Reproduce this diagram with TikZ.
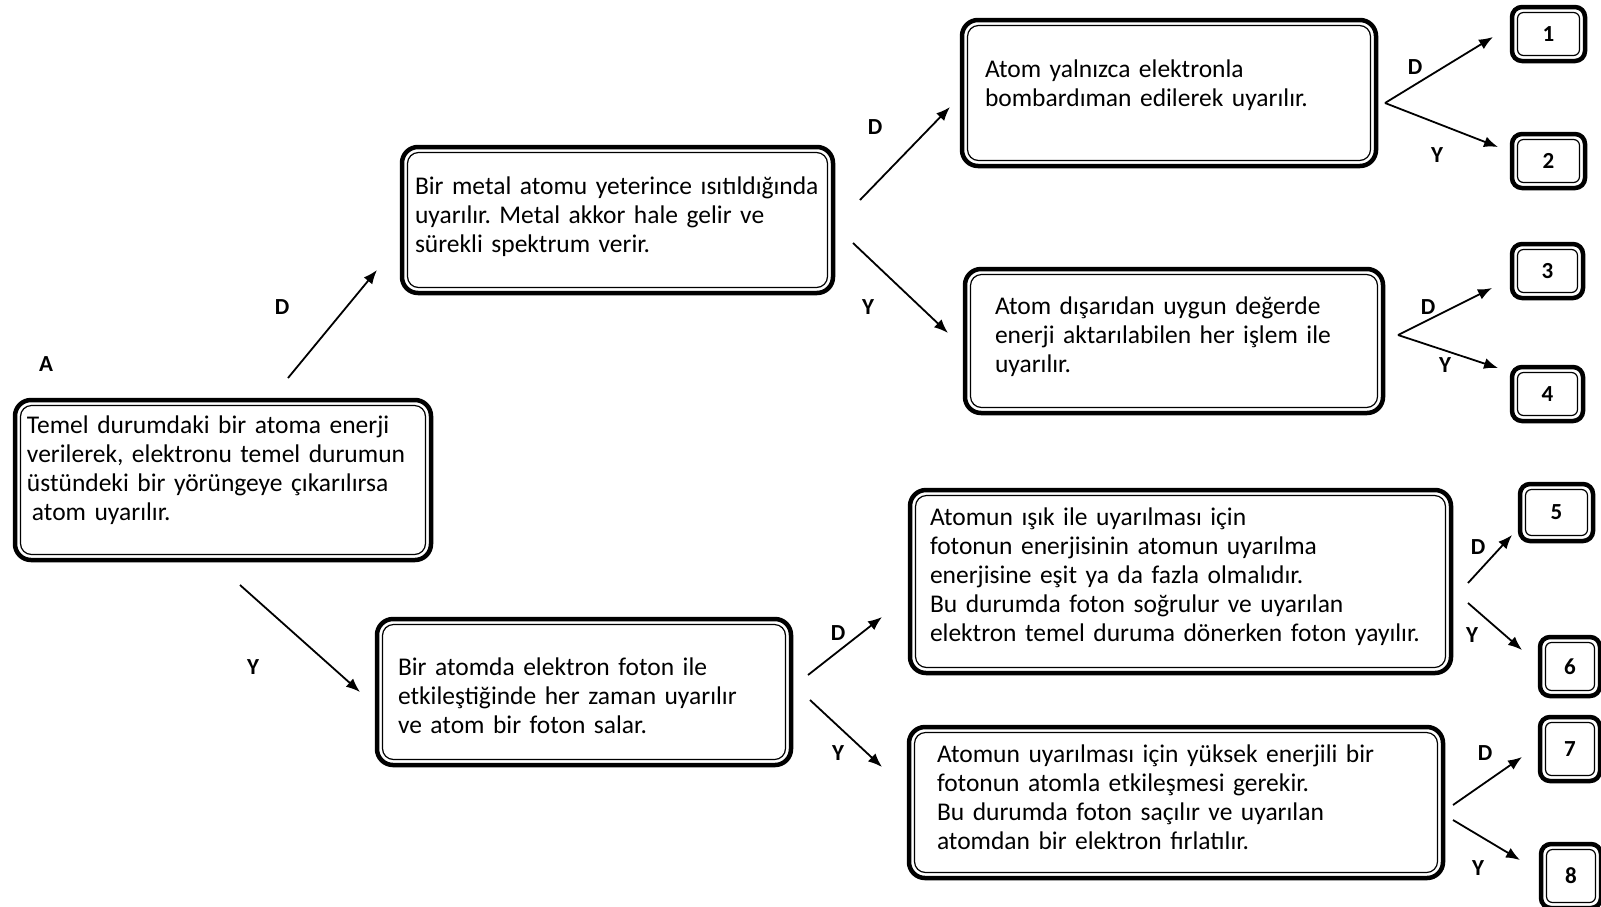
\documentclass[tikz,border=0pt]{standalone}
\usepackage{fontspec}
\setmainfont{Carlito}[WordSpace=0.78]
\usetikzlibrary{positioning,arrows.meta}

\begin{document}
\begin{tikzpicture}[x=1pt, y=-1pt,
    cift/.style={path picture={\draw[line width=1.2pt, rounded corners=#1]
        ([shift={(5.5pt,-5.5pt)}]path picture bounding box.north west) rectangle
        ([shift={(-5.5pt,5.5pt)}]path picture bounding box.south east);}},
    kutu/.style={draw, line width=4.5pt, rounded corners=16pt, align=left, inner xsep=0pt, inner ysep=2pt,
        font=\fontsize{25.5}{29}\selectfont\frenchspacing, cift=11pt},
    sayi/.style={draw, line width=4.5pt, rounded corners=10pt, inner sep=0pt,
        font=\bfseries\fontsize{23}{23}\selectfont, cift=6pt},
    yukari/.style={execute at end node={\endgraf\vspace{#1}\hrule height 0pt}},
    harf/.style={font=\bfseries\fontsize{23}{23}\selectfont, inner sep=0pt},
    ok/.style={line width=1.8pt, -{Latex[length=14pt,width=11pt]}}]
    \useasboundingbox (0,0) rectangle (1601,906);

    \node[kutu, minimum width=416pt, minimum height=160pt, text width=392pt, yukari=20pt] (temel) at (223,480)
        {Temel durumdaki bir atoma enerji\\verilerek, elektronu temel durumun\\üstündeki bir yörüngeye çıkarılırsa\\\hspace*{5pt}atom uyarılır.};
    \node[kutu, minimum width=431pt, minimum height=146pt, text width=405pt, yukari=7pt] (metal) at (617.5,220)
        {\mbox{Bir metal atomu yeterince ısıtıldığında}\\uyarılır. Metal akkor hale gelir ve\\sürekli spektrum verir.};
    \node[kutu, minimum width=414pt, minimum height=146pt, text width=372pt, yukari=-7pt] (foton) at (584,692)
        {Bir atomda elektron foton ile\\etkileştiğinde her zaman uyarılır\\ve atom bir foton salar.};
    \node[kutu, minimum width=414pt, minimum height=146pt, text width=368pt, yukari=16pt] (elektron) at (1169,93)
        {Atom yalnızca elektronla\\bombardıman edilerek uyarılır.};
    \node[kutu, minimum width=418pt, minimum height=144pt, text width=358pt, yukari=9pt] (disaridan) at (1174,341)
        {Atom dışarıdan uygun değerde\\enerji aktarılabilen her işlem ile\\uyarılır.};
    \node[kutu, minimum width=541pt, minimum height=183pt, text width=501pt, yukari=10pt] (isik) at (1180.5,581.5)
        {Atomun ışık ile uyarılması için\\fotonun enerjisinin atomun uyarılma\\enerjisine eşit ya da fazla olmalıdır.\\Bu durumda foton soğrulur ve uyarılan\\elektron temel duruma dönerken foton yayılır.};
    \node[kutu, minimum width=534pt, minimum height=151pt, text width=478pt, yukari=10pt] (yuksek) at (1176,802.5)
        {Atomun uyarılması için yüksek enerjili bir\\fotonun atomla etkileşmesi gerekir.\\Bu durumda foton saçılır ve uyarılan\\atomdan bir elektron fırlatılır.};

    \node[sayi, minimum width=73pt, minimum height=54pt] (n1) at (1548.5,34) {1};
    \node[sayi, minimum width=73pt, minimum height=54pt] (n2) at (1548.5,161) {2};
    \node[sayi, minimum width=71pt, minimum height=54pt] (n3) at (1547.5,271) {3};
    \node[sayi, minimum width=71pt, minimum height=54pt] (n4) at (1547.5,394) {4};
    \node[sayi, minimum width=73pt, minimum height=57pt] (n5) at (1556.5,512.5) {5};
    \node[sayi, minimum width=60pt, minimum height=59pt] (n6) at (1570,666.5) {6};
    \node[sayi, minimum width=60pt, minimum height=64pt] (n7) at (1570,749) {7};
    \node[sayi, minimum width=60pt, minimum height=64pt] (n8) at (1571,876) {8};

    \node[harf] (lA) at (46,364) {A};
    \node[harf] (lTD) at (282,307) {D};
    \node[harf] (lTY) at (253,667) {Y};
    \node[harf] (lMD) at (875,127) {D};
    \node[harf] (lMY) at (868,307) {Y};
    \node[harf] (lFD) at (838,633) {D};
    \node[harf] (lFY) at (838,753) {Y};
    \node[harf] (lED) at (1415,67) {D};
    \node[harf] (lEY) at (1437,155) {Y};
    \node[harf] (lDD) at (1428,307) {D};
    \node[harf] (lDY) at (1445,365) {Y};
    \node[harf] (lID) at (1478,547) {D};
    \node[harf] (lIY) at (1472,635) {Y};
    \node[harf] (lYD) at (1485,753) {D};
    \node[harf] (lYY) at (1478,868) {Y};

    \coordinate (tD0) at (288,378);   \coordinate (tD1) at (377,270);
    \coordinate (tY0) at (240,585);   \coordinate (tY1) at (360,692);
    \coordinate (mD0) at (860,200);   \coordinate (mD1) at (950,107);
    \coordinate (mY0) at (853,243);   \coordinate (mY1) at (948,333);
    \coordinate (fD0) at (808,675);   \coordinate (fD1) at (882,617);
    \coordinate (fY0) at (810,700);   \coordinate (fY1) at (882,767);
    \coordinate (e0) at (1385,103);   \coordinate (eD1) at (1493,37);   \coordinate (eY1) at (1498,147);
    \coordinate (d0) at (1398,335);   \coordinate (dD1) at (1492,288);  \coordinate (dY1) at (1498,368);
    \coordinate (iD0) at (1468,583);  \coordinate (iD1) at (1512,535);
    \coordinate (iY0) at (1468,603);  \coordinate (iY1) at (1522,650);
    \coordinate (yD0) at (1453,805);  \coordinate (yD1) at (1522,757);
    \coordinate (yY0) at (1453,820);  \coordinate (yY1) at (1520,860);

    \draw[ok] (tD0) -- (tD1);
    \draw[ok] (tY0) -- (tY1);
    \draw[ok] (mD0) -- (mD1);
    \draw[ok] (mY0) -- (mY1);
    \draw[ok] (fD0) -- (fD1);
    \draw[ok] (fY0) -- (fY1);
    \draw[ok] (e0) -- (eD1);
    \draw[ok] (e0) -- (eY1);
    \draw[ok] (d0) -- (dD1);
    \draw[ok] (d0) -- (dY1);
    \draw[ok] (iD0) -- (iD1);
    \draw[ok] (iY0) -- (iY1);
    \draw[ok] (yD0) -- (yD1);
    \draw[ok] (yY0) -- (yY1);
\end{tikzpicture}
\end{document}
